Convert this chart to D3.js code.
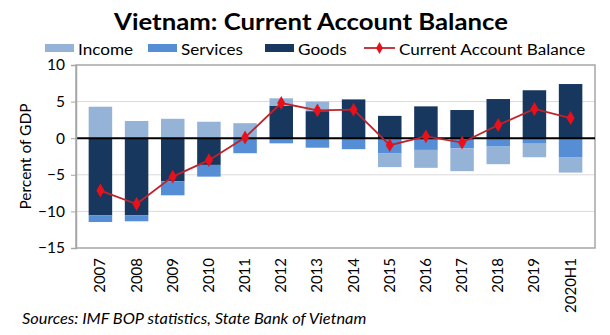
<!DOCTYPE html>
<html>
<head>
<meta charset="utf-8">
<script src="https://cdn.jsdelivr.net/npm/d3@7.9.0/dist/d3.min.js"></script>
<style>
  body { margin: 0; background: #fff; }
  svg { display: block; font-family: Lato, 'Open Sans', sans-serif; }
</style>
</head>
<body>
<div id="chart"></div>
<script>
// Current account components, percent of GDP
const years = ['2007', '2008', '2009', '2010', '2011', '2012', '2013', '2014',
  '2015', '2016', '2017', '2018', '2019', '2020H1'];
const goods = [-10.55, -10.55, -5.9, -3.65, 0, 4.45, 3.7, 5.3, 3.05, 4.35, 3.85, 5.35, 6.55, 7.4];
const services = [-0.9, -0.8, -1.9, -1.6, -2.05, -0.7, -1.3, -1.5, -2.1, -1.6, -1.4, -1.15, -0.75, -2.65];
const income = [4.3, 2.35, 2.65, 2.25, 2.05, 1.0, 1.3, 0, -1.85, -2.45, -3.1, -2.4, -1.85, -2.05];
const balance = [-7.15, -9.0, -5.25, -3.0, 0.1, 4.8, 3.8, 3.9, -0.95, 0.25, -0.6, 1.8, 4.0, 2.75];
const yTicks = [-15, -10, -5, 0, 5, 10];

const width = 610;
const height = 335;
const margin = { top: 65, right: 15, bottom: 87, left: 76 };

const colors = { goods: '#17375e', services: '#558ed5', income: '#95b3d7' };

const rows = years.map((y, i) => ({
  year: y, goods: goods[i], services: services[i], income: income[i], balance: balance[i]
}));

const svg = d3.select('#chart').append('svg')
  .attr('width', width)
  .attr('height', height);

// text drawn a little wider than the font's natural width
function wideText(parent, x, y, sx, str) {
  return parent.append('text')
    .attr('transform', `translate(${x},${y}) scale(${sx},1)`)
    .text(str);
}

const x = d3.scaleBand()
  .domain(years)
  .range([margin.left, width - margin.right])
  .padding(0.35);

const y = d3.scaleLinear()
  .domain([-15, 10])
  .range([height - margin.bottom, margin.top]);

// gridlines
svg.append('g')
  .selectAll('line')
  .data(yTicks.filter(d => d !== 0 && d !== -15 && d !== 10))
  .join('line')
  .attr('x1', margin.left)
  .attr('x2', width - margin.right)
  .attr('y1', d => y(d))
  .attr('y2', d => y(d))
  .attr('stroke', '#d9d9d9')
  .attr('stroke-width', 1);

// plot frame
svg.append('rect')
  .attr('x', margin.left)
  .attr('y', margin.top)
  .attr('width', width - margin.right - margin.left)
  .attr('height', y(-15) - y(10))
  .attr('fill', 'none')
  .attr('stroke', '#a6a6a6')
  .attr('stroke-width', 1.5);

// stacked bars, positives and negatives stacked apart
const stack = d3.stack()
  .keys(['goods', 'services', 'income'])
  .offset(d3.stackOffsetDiverging);

const series = stack(rows);

svg.append('g')
  .selectAll('g')
  .data(series)
  .join('g')
  .attr('fill', d => colors[d.key])
  .selectAll('rect')
  .data(d => d)
  .join('rect')
  .attr('x', d => x(d.data.year))
  .attr('width', x.bandwidth())
  .attr('y', d => y(Math.max(d[0], d[1])))
  .attr('height', d => Math.abs(y(d[0]) - y(d[1])));

// zero line
svg.append('line')
  .attr('x1', margin.left)
  .attr('x2', width - margin.right)
  .attr('y1', y(0))
  .attr('y2', y(0))
  .attr('stroke', '#000')
  .attr('stroke-width', 2);

// y axis
const yAxis = svg.append('g')
  .attr('transform', `translate(${margin.left},0)`)
  .call(d3.axisLeft(y).tickValues(yTicks).tickSize(5).tickPadding(6));
yAxis.select('.domain').attr('stroke', '#a6a6a6').attr('stroke-width', 1.5);
yAxis.selectAll('.tick line').attr('stroke', '#a6a6a6');
yAxis.selectAll('.tick text')
  .attr('fill', '#000')
  .style('font-size', '15.5px')
  .style('font-family', 'Lato, sans-serif');

svg.append('text')
  .attr('transform', `translate(31,${(y(10) + y(-15)) / 2}) rotate(-90)`)
  .attr('text-anchor', 'middle')
  .style('font-size', '15.5px')
  .text('Percent of GDP');

// x labels, rotated
svg.append('g')
  .selectAll('text')
  .data(years)
  .join('text')
  .attr('transform', d => `translate(${x(d) + x.bandwidth() / 2 + 5},${y(-15) + 10}) rotate(-90)`)
  .attr('text-anchor', 'end')
  .style('font-size', '15px')
  .text(d => d);

// current account balance line
const line = d3.line()
  .x(d => x(d.year) + x.bandwidth() / 2)
  .y(d => y(d.balance));

svg.append('path')
  .datum(rows)
  .attr('fill', 'none')
  .attr('stroke', '#c0232b')
  .attr('stroke-width', 1.8)
  .attr('d', line);

const diamond = d3.symbol().type(d3.symbolDiamond).size(56);
svg.append('g')
  .selectAll('path')
  .data(rows)
  .join('path')
  .attr('transform', d => `translate(${x(d.year) + x.bandwidth() / 2},${y(d.balance)})`)
  .attr('d', diamond)
  .attr('fill', '#e8101a');

// title
wideText(svg, 311, 30, 1.17, 'Vietnam: Current Account Balance')
  .attr('text-anchor', 'middle')
  .style('font-size', '22px')
  .style('font-weight', 'bold');

// legend
const legendItems = [
  { label: 'Income', key: 'income', x: 45 },
  { label: 'Services', key: 'services', x: 148 },
  { label: 'Goods', key: 'goods', x: 265 },
  { label: 'Current Account Balance', key: 'balance', x: 364 }
];
const legend = svg.append('g').attr('transform', 'translate(0,48)');
legendItems.forEach(it => {
  const g = legend.append('g').attr('transform', `translate(${it.x},0)`);
  if (it.key === 'balance') {
    g.append('line').attr('x1', 0).attr('x2', 31).attr('y1', 0).attr('y2', 0)
      .attr('stroke', '#c0232b').attr('stroke-width', 1.8);
    g.append('path').attr('transform', 'translate(15.5,0)')
      .attr('d', d3.symbol().type(d3.symbolDiamond).size(40)).attr('fill', '#e8101a');
  } else {
    g.append('rect').attr('x', 0).attr('y', -4).attr('width', 29).attr('height', 8)
      .attr('fill', colors[it.key]);
  }
  wideText(g, it.key === 'balance' ? 35 : 33, 7, 1.07, it.label)
    .style('font-size', '16px');
});

// source note
wideText(svg, 22, 324, 1.055, 'Sources: IMF BOP statistics, State Bank of Vietnam')
  .style('font-size', '15.5px')
  .style('font-style', 'italic');
</script>
</body>
</html>
